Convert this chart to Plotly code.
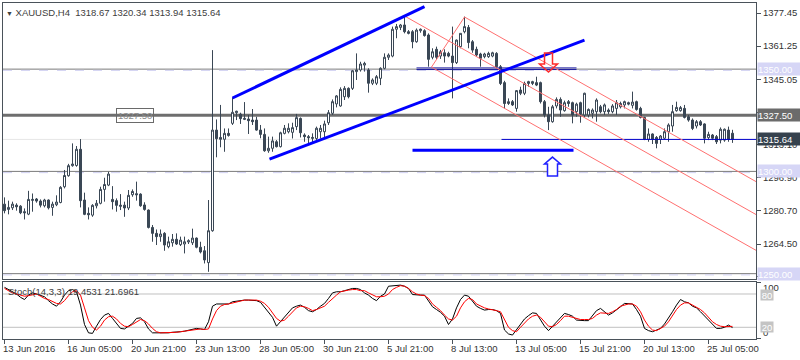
import plotly.graph_objects as go

# ---------------- data ----------------
open_ = [1284.0,1281.4,1282.2,1283.5,1283.0,1280.3,1279.1,1285.8,1286.5,1285.5,
         1283.2,1286.0,1282.4,1283.7,1284.8,1292.5,1297.9,1302.8,1302.9,1310.8,
         1286.0,1279.5,1278.6,1283.2,1284.4,1291.2,1293.3,1286.3,1285.7,1283.5,
         1283.5,1282.1,1288.6,1289.1,1288.9,1283.6,1281.1,1272.6,1269.7,1268.1,
         1269.7,1263.2,1265.1,1266.8,1264.2,1264.5,1265.5,1265.1,1267.4,1262.9,
         1261.2,1255.4,1271.0,1320.2,1316.6,1315.7,1318.6,1323.5,1328.7,1328.0,
         1325.4,1325.6,1325.1,1325.1,1320.2,1318.1,1310.1,1311.3,1314.5,1312.1,
         1318.6,1319.4,1319.1,1321.9,1325.9,1317.8,1317.0,1316.1,1316.1,1319.4,
         1319.4,1323.8,1328.4,1333.0,1332.0,1336.5,1340.6,1340.6,1348.8,1349.6,
         1352.0,1349.6,1343.1,1343.1,1345.5,1350.4,1355.8,1356.4,1369.5,1370.4,
         1371.6,1368.3,1368.3,1363.4,1368.8,1368.8,1366.7,1355.8,1359.7,1356.4,
         1358.0,1357.7,1356.4,1353.2,1361.0,1368.3,1370.4,1363.4,1359.7,1357.4,
         1356.1,1356.1,1356.4,1357.7,1351.2,1343.4,1333.2,1334.1,1330.8,1339.8,
         1338.2,1343.0,1343.0,1343.4,1343.4,1334.1,1327.6,1324.3,1332.0,1335.2,
         1329.7,1334.1,1333.6,1329.2,1333.6,1327.6,1327.6,1328.4,1329.2,1331.6,
         1329.2,1330.0,1329.2,1330.8,1331.6,1332.5,1333.6,1332.3,1334.1,1330.8,
         1326.4,1315.7,1318.3,1316.6,1315.7,1316.2,1319.4,1322.2,1329.7,1329.7,
         1330.8,1326.7,1325.1,1322.2,1324.3,1323.2,1316.5,1317.8,1317.0,1315.3,
         1315.3,1320.2,1318.67]
high = [1287.3,1285.7,1285.2,1284.4,1283.5,1281.9,1290.5,1289.2,1287.0,1286.3,
        1286.6,1286.3,1285.2,1288.3,1292.8,1300.7,1303.7,1313.7,1312.4,1315.8,
        1289.6,1282.4,1284.0,1286.0,1292.5,1296.9,1299.8,1292.8,1286.8,1288.9,
        1285.2,1290.9,1291.2,1295.0,1289.3,1284.9,1281.4,1273.8,1271.6,1271.6,
        1270.3,1268.1,1269.4,1269.7,1268.1,1268.1,1266.8,1272.0,1267.7,1265.6,
        1263.5,1286.0,1359.3,1325.4,1332.5,1321.0,1321.0,1336.2,1329.7,1328.7,
        1333.9,1327.6,1330.5,1326.7,1322.7,1321.0,1317.0,1317.0,1315.3,1319.4,
        1322.7,1323.5,1323.8,1328.1,1326.4,1318.6,1317.8,1318.6,1321.9,1322.7,
        1324.8,1330.0,1335.2,1337.3,1341.1,1341.7,1341.1,1349.6,1357.7,1353.6,
        1353.6,1350.4,1345.5,1347.1,1350.9,1357.7,1357.7,1370.8,1372.1,1372.1,
        1376.0,1369.1,1369.1,1369.9,1369.9,1369.5,1367.5,1360.2,1361.0,1359.4,
        1359.7,1358.5,1370.8,1364.5,1367.5,1375.7,1371.6,1364.2,1361.0,1358.0,
        1358.0,1358.5,1358.5,1358.3,1352.0,1344.3,1335.7,1334.9,1339.8,1341.4,
        1343.9,1344.3,1344.3,1346.3,1343.9,1334.9,1331.6,1332.5,1336.2,1336.2,
        1334.6,1334.9,1334.1,1333.6,1334.1,1338.5,1330.8,1330.8,1335.7,1332.5,
        1333.2,1330.8,1332.9,1334.9,1334.1,1334.6,1334.1,1339.0,1334.6,1331.6,
        1326.7,1321.0,1318.6,1317.3,1317.8,1321.0,1323.5,1332.5,1334.1,1332.0,
        1332.5,1327.6,1325.9,1325.1,1325.1,1323.5,1319.4,1318.3,1317.8,1321.5,
        1321.0,1321.9,1320.34]
low = [1279.5,1279.0,1281.1,1280.8,1279.1,1276.5,1278.6,1280.3,1284.7,1282.4,
       1282.4,1281.4,1278.3,1283.0,1284.4,1291.7,1297.4,1302.3,1302.3,1282.4,
       1278.6,1276.5,1277.8,1281.9,1283.9,1285.2,1292.8,1281.4,1280.3,1281.1,
       1277.8,1281.1,1287.6,1285.7,1282.7,1280.8,1272.1,1265.6,1264.0,1265.6,
       1261.2,1262.4,1263.2,1264.0,1263.5,1259.9,1264.5,1264.0,1262.4,1259.9,
       1255.0,1250.9,1270.5,1306.9,1311.8,1309.6,1317.0,1322.7,1325.1,1323.2,
       1325.1,1318.3,1322.7,1319.9,1316.2,1309.6,1309.1,1309.6,1311.7,1311.7,
       1318.1,1318.6,1316.1,1320.2,1316.6,1314.5,1313.7,1313.4,1315.3,1316.1,
       1316.6,1322.7,1327.6,1331.3,1331.6,1334.9,1335.7,1339.8,1344.7,1348.8,
       1348.8,1338.5,1342.2,1342.2,1342.2,1349.9,1354.5,1355.8,1365.1,1369.1,
       1367.5,1367.0,1360.2,1362.9,1367.8,1365.9,1351.2,1354.8,1354.5,1355.0,
       1353.2,1355.8,1335.7,1352.5,1360.2,1367.5,1360.2,1358.0,1356.0,1351.2,
       1355.3,1355.5,1355.8,1350.4,1342.2,1330.8,1332.5,1332.0,1329.2,1337.3,
       1337.3,1341.4,1342.2,1341.7,1333.2,1326.4,1320.2,1323.8,1330.8,1326.7,
       1329.2,1331.6,1323.5,1326.7,1323.8,1326.4,1326.4,1325.9,1324.3,1328.4,
       1327.6,1328.1,1328.4,1327.6,1330.8,1330.8,1332.3,1330.8,1329.7,1325.9,
       1315.3,1314.5,1313.4,1311.3,1313.4,1315.7,1314.5,1319.4,1329.2,1329.2,
       1325.9,1324.3,1320.2,1321.0,1322.2,1313.7,1315.3,1315.3,1313.4,1313.7,
       1314.5,1314.5,1313.94]
close = [1280.8,1282.4,1284.0,1282.7,1279.8,1279.8,1286.3,1286.3,1285.5,1283.5,
         1286.0,1282.2,1284.0,1285.0,1292.2,1298.0,1302.8,1303.6,1310.8,1285.7,
         1279.0,1278.8,1283.4,1284.4,1291.2,1293.6,1298.7,1285.2,1283.4,1283.0,
         1282.1,1288.3,1290.2,1288.6,1283.2,1281.4,1272.6,1269.7,1268.1,1269.4,
         1264.0,1265.6,1266.8,1264.5,1266.4,1265.6,1266.1,1267.4,1262.9,1260.6,
         1256.7,1271.0,1320.2,1316.0,1315.7,1318.6,1317.6,1328.9,1329.4,1325.8,
         1325.9,1324.8,1324.3,1320.2,1318.1,1310.1,1311.3,1314.9,1312.1,1318.9,
         1321.1,1321.1,1321.4,1326.3,1318.9,1317.0,1316.5,1316.6,1321.1,1321.1,
         1323.2,1328.7,1334.1,1336.9,1340.1,1340.6,1336.5,1349.2,1349.6,1352.5,
         1352.8,1343.1,1344.7,1346.3,1350.4,1355.8,1356.9,1369.5,1370.8,1371.6,
         1368.3,1367.5,1363.4,1369.1,1369.5,1366.4,1354.8,1358.5,1355.8,1358.5,
         1356.4,1356.4,1353.2,1364.2,1367.5,1370.8,1363.0,1359.3,1356.9,1355.3,
         1357.4,1357.7,1358.0,1351.2,1343.0,1333.2,1334.1,1332.5,1339.5,1338.2,
         1343.0,1343.9,1343.9,1342.2,1334.1,1327.6,1324.3,1331.6,1335.2,1330.0,
         1333.6,1333.2,1327.6,1332.9,1328.1,1338.2,1330.3,1330.0,1334.9,1329.2,
         1332.5,1329.2,1332.0,1333.6,1333.2,1334.1,1332.9,1333.9,1330.3,1326.4,
         1315.7,1318.3,1315.7,1313.7,1317.3,1319.4,1322.7,1329.2,1331.3,1331.2,
         1326.4,1325.1,1321.0,1324.3,1322.7,1316.2,1318.1,1316.2,1314.5,1320.6,
         1320.6,1315.7,1315.64]
stoch_k = [92,88,84,80,74,70,78,82,80,77,75,68,62,58,66,78,86,88,84,60,
           25,10,9,22,34,42,45,36,26,18,17,22,27,36,37,30,17,10,10,9,
           9,10,11,11,12,13,15,17,18,17,16,30,58,62,62,61,62,66,67,69,
           69,69,69,68,65,56,47,38,22,30,40,48,55,58,60,56,50,48,52,58,
           63,72,82,84,84,86,88,90,90,88,82,78,72,68,76,80,94,95,96,96,
           94,90,79,78,78,78,68,57,52,47,40,25,35,55,70,78,76,68,58,54,
           51,52,52,50,45,15,8,6,15,25,35,41,46,45,34,22,14,22,30,38,
           45,43,40,33,32,32,32,40,50,54,48,42,46,51,57,63,63,62,52,40,
           18,14,12,15,18,26,36,48,60,70,66,64,58,55,48,40,34,25,18,18,
           20,24,19.4531]
stoch_d = [90,86,82,80,78,76,77,79,80,76,72,70,67,63,62,68,77,84,86,78,
           55,32,20,15,22,33,39,40,35,27,22,21,25,30,34,32,26,18,12,10,
           10,10,10,11,12,13,14,15,17,17,16,17,35,50,58,61,62,64,66,68,
           69,69,69,69,67,63,56,45,36,31,33,40,48,55,58,57,54,50,52,55,
           58,65,72,78,84,86,87,88,88,86,86,82,78,75,75,76,80,88,92,95,
           94,90,84,80,78,77,72,62,56,50,42,35,33,40,55,66,72,70,62,58,
           55,53,52,50,48,35,20,14,12,20,28,35,40,42,38,30,22,21,25,32,
           40,40,38,36,34,34,34,36,42,46,46,45,48,52,58,60,62,62,58,48,
           33,22,15,14,18,22,30,42,52,60,64,64,60,57,52,46,38,30,25,22,
           21,21,21.6961]
bars = list(range(len(close)))

x_tick_bars = [0, 16, 32, 48, 64, 80, 96, 112, 128, 144, 160, 176]
x_tick_labels = ["13 Jun 2016", "16 Jun 05:00", "20 Jun 21:00", "23 Jun 13:00",
                 "28 Jun 05:00", "30 Jun 21:00", "5 Jul 21:00", "8 Jul 13:00",
                 "13 Jul 05:00", "15 Jul 21:00", "20 Jul 13:00", "25 Jul 05:00"]
y_tick_vals = [1377.45, 1361.25, 1345.05, 1329.00, 1313.10, 1296.90, 1280.70, 1264.50, 1248.75]
y_tick_text = ["1377.45", "1361.25", "1345.05", "1329.00", "1313.10", "1296.90", "1280.70", "1264.50", "1248.75"]

support_levels = [1350.00, 1300.00, 1250.00]
pivot_level = 1327.50
last_price = 1315.64
stoch_levels = [80, 20]

# drawing objects (bar index, price)
channel_up_upper = [(57.0, 1335.9), (105.0, 1380.6)]
channel_up_lower = [(66.25, 1306.0), (145.0, 1364.2)]
support_blue = [(102.0, 1310.4), (142.25, 1310.4)]
neckline = [(103.0, 143.0), (1350.6, 1349.8)]
pitch_a = (100.0, 1376.0)
pitch_b = (106.75, 1351.0)
pitch_c = (115.0, 1375.5)
pitch_end_bar = 188.25
pitch_ends = [1294.6, 1278.5, 1261.0]  # end prices of the C, A, B lines

# ---------------- figure ----------------
DARK = "#3a4755"
FRAME = "#4a525a"
FONT = "Liberation Sans"

fig = go.Figure()
fig.add_trace(go.Candlestick(
    x=bars, open=open_, high=high, low=low, close=close,
    increasing=dict(line=dict(color=DARK, width=1), fillcolor="white"),
    decreasing=dict(line=dict(color=DARK, width=1), fillcolor=DARK),
    whiskerwidth=0, showlegend=False, hoverinfo="skip",
    xaxis="x", yaxis="y"))
fig.add_trace(go.Scatter(x=bars, y=stoch_k, mode="lines", line=dict(color="black", width=1),
                         xaxis="x2", yaxis="y2", showlegend=False, hoverinfo="skip"))
fig.add_trace(go.Scatter(x=bars, y=stoch_d, mode="lines", line=dict(color="red", width=1),
                         xaxis="x2", yaxis="y2", showlegend=False, hoverinfo="skip"))

shapes = []
XMIN, XMAX = -0.375, 187.875
for lv in support_levels:
    shapes.append(dict(type="line", xref="x", yref="y", x0=XMIN, x1=XMAX, y0=lv, y1=lv,
                       line=dict(color="#7a7a7a", width=1), layer="below"))
    shapes.append(dict(type="line", xref="x", yref="y", x0=XMIN, x1=XMAX, y0=lv - 0.6, y1=lv - 0.6,
                       line=dict(color="#d0d0f2", width=1, dash="dash"), layer="below"))
shapes.append(dict(type="line", xref="x", yref="y", x0=XMIN, x1=XMAX, y0=pivot_level, y1=pivot_level,
                   line=dict(color="#6e6e6e", width=3), layer="below"))
shapes.append(dict(type="line", xref="x", yref="y", x0=XMIN, x1=XMAX, y0=last_price, y1=last_price,
                   line=dict(color="#e6e6e6", width=1), layer="below"))
shapes.append(dict(type="line", xref="x", yref="y", x0=124.25, x1=XMAX, y0=last_price, y1=last_price,
                   line=dict(color="#0000cc", width=1), layer="above"))
for yv in neckline[1]:
    shapes.append(dict(type="line", xref="x", yref="y", x0=neckline[0][0], x1=neckline[0][1], y0=yv, y1=yv,
                       line=dict(color="#1a1aa0", width=1)))
RED = "#ff7070"
for (px0, py0), yend in zip([pitch_c, pitch_a, pitch_b], pitch_ends):
    shapes.append(dict(type="line", xref="x", yref="y", x0=px0, y0=py0, x1=pitch_end_bar, y1=yend,
                       line=dict(color=RED, width=1)))
shapes.append(dict(type="line", xref="x", yref="y", x0=pitch_b[0], y0=pitch_b[1], x1=pitch_c[0], y1=pitch_c[1],
                   line=dict(color=RED, width=1)))
for seg in [channel_up_upper, channel_up_lower, support_blue]:
    shapes.append(dict(type="line", xref="x", yref="y", x0=seg[0][0], y0=seg[0][1], x1=seg[1][0], y1=seg[1][1],
                       line=dict(color="#0000ff", width=3)))
shapes.append(dict(type="path", xref="x", yref="y",
                   path="M 135 1357.9 L 137 1357.9 L 137 1352.5 L 138.25 1352.5 L 136 1348.6 L 133.75 1352.5 L 135 1352.5 Z",
                   line=dict(color="#ff2a2a", width=1.5), fillcolor="rgba(255,255,255,0)"))
shapes.append(dict(type="path", xref="x", yref="y",
                   path="M 137 1307.0 L 139 1303.6 L 138.25 1303.6 L 138.25 1297.7 L 135.75 1297.7 L 135.75 1303.6 L 135 1303.6 Z",
                   line=dict(color="#2020ff", width=1.5), fillcolor="white"))
for lv in stoch_levels:
    shapes.append(dict(type="line", xref="x2", yref="y2", x0=XMIN, x1=XMAX, y0=lv, y1=lv,
                       line=dict(color="#c0c0c0", width=1), layer="below"))

annotations = []
TXT = "#333333"
def paper_y(py):
    return (339 - py) / 336.0
def paper_x(px):
    return (px - 3) / 753.0

annotations.append(dict(xref="paper", yref="paper", x=paper_x(4), y=paper_y(12), xanchor="left", yanchor="middle",
                        text="<span style='font-size:7px'>\u25bc</span> XAUUSD,H4  1318.67 1320.34 1313.94 1315.64",
                        showarrow=False, font=dict(family=FONT, size=9.5, color="#404040")))
annotations.append(dict(xref="paper", yref="paper", x=paper_x(6), y=paper_y(291), xanchor="left", yanchor="middle",
                        text="Stoch(14,3,3) 19.4531 21.6961",
                        showarrow=False, font=dict(family=FONT, size=9.5, color="#404040")))
for lv, bg in [(1350.00, "#d6d6f6"), (1300.00, "#d6d6f6"), (1250.00, "#d6d6f6"),
               (pivot_level, "#6b6b6b"), (last_price, "#36424e")]:
    annotations.append(dict(xref="paper", yref="y", x=paper_x(757), y=lv, xanchor="left", yanchor="middle",
                            text=f"{lv:.2f}", showarrow=False, bgcolor=bg, width=42, height=12,
                            align="left", borderpad=0, font=dict(family=FONT, size=9.5, color="white")))
annotations.append(dict(xref="x", yref="y", x=32.5, y=pivot_level, text="1327.50", showarrow=False,
                        bordercolor="#6a6a6a", borderwidth=1, borderpad=1, bgcolor="rgba(255,255,255,0)",
                        font=dict(family=FONT, size=9.5, color="#8a8a8a")))
annotations.append(dict(xref="paper", yref="paper", x=paper_x(761), y=paper_y(287), xanchor="left", yanchor="middle",
                        text="100", showarrow=False, font=dict(family=FONT, size=9.5, color=TXT)))
annotations.append(dict(xref="paper", yref="paper", x=paper_x(761), y=paper_y(332.5), xanchor="left", yanchor="middle",
                        text="0", showarrow=False, font=dict(family=FONT, size=9.5, color=TXT)))
for lbl, py in [("80", 295), ("20", 326.5)]:
    annotations.append(dict(xref="paper", yref="paper", x=paper_x(759.5), y=paper_y(py), xanchor="left", yanchor="middle",
                            text=lbl, showarrow=False, bgcolor="#c4c4c4", width=12, height=10, borderpad=0,
                            font=dict(family=FONT, size=9.5, color="white")))
for b, lbl in zip(x_tick_bars, x_tick_labels):
    annotations.append(dict(xref="x2", yref="paper", x=b, y=paper_y(349), xanchor="left", yanchor="middle",
                            xshift=-4, text=lbl, showarrow=False, font=dict(family=FONT, size=9.5, color=TXT)))

axis_common = dict(showgrid=False, zeroline=False, showline=True, mirror=True, linecolor=FRAME, linewidth=1)
fig.update_layout(
    width=800, height=360,
    margin=dict(l=3, r=44, t=3, b=21, pad=0),
    paper_bgcolor="white", plot_bgcolor="white",
    showlegend=False, boxgap=0.5, boxgroupgap=0,
    shapes=shapes, annotations=annotations,
    xaxis=dict(domain=[0, 1], range=[XMIN, XMAX], anchor="y", showticklabels=False, ticks="",
               rangeslider=dict(visible=False), **axis_common),
    yaxis=dict(domain=[60 / 336.0, 1], range=[1247.39, 1382.34], side="right", anchor="x",
               tickvals=y_tick_vals, ticktext=y_tick_text, ticks="outside", ticklen=4, tickcolor=FRAME,
               tickfont=dict(family=FONT, size=9.5, color=TXT), **axis_common),
    xaxis2=dict(domain=[0, 1], range=[XMIN, XMAX], anchor="y2", matches="x", showticklabels=False,
                tickvals=x_tick_bars, ticks="outside", ticklen=4, tickcolor=FRAME, **axis_common),
    yaxis2=dict(domain=[0, 57 / 336.0], range=[-1.1, 101.6], side="right", anchor="x2",
                tickvals=[100, 0], showticklabels=False, ticks="outside", ticklen=4, tickcolor=FRAME,
                **axis_common),
)

fig.write_html("out.html", config={"displayModeBar": False, "staticPlot": True},
               post_script="document.body.style.margin='0px';document.body.style.padding='0px';")
